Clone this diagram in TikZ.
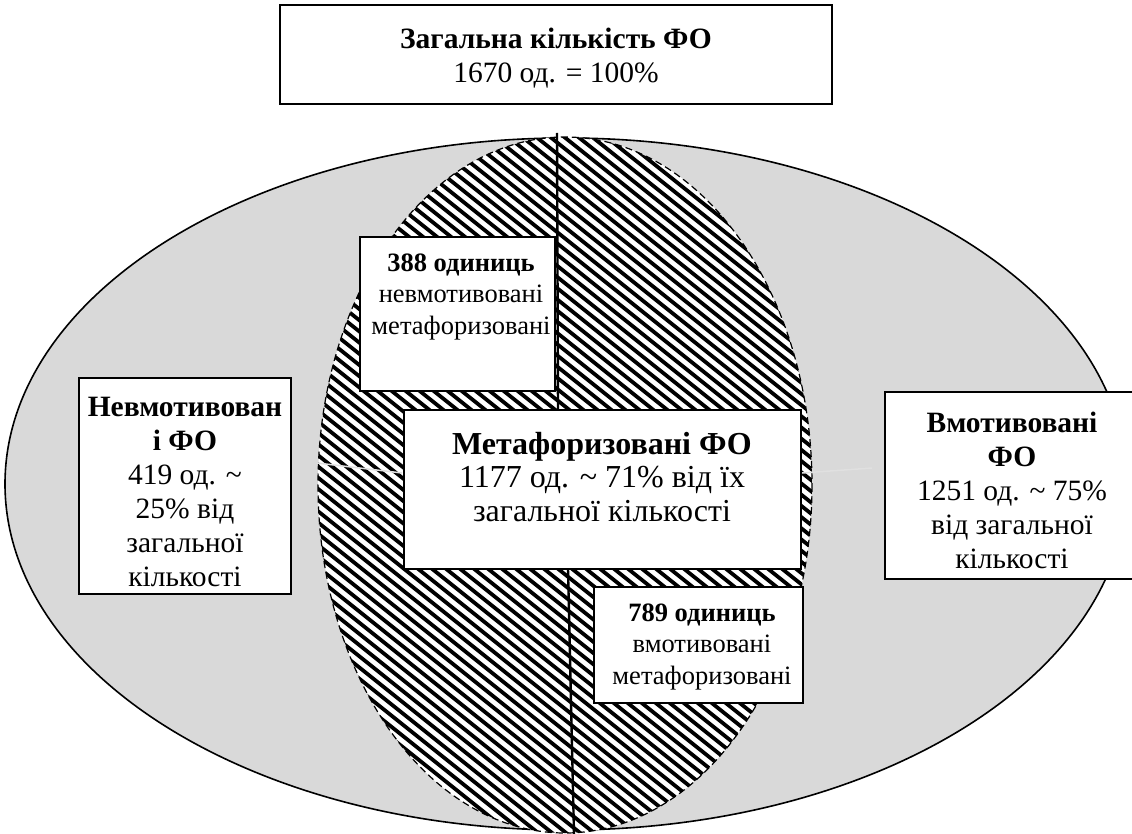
\documentclass[tikz,border=0pt]{standalone}
\usepackage{fontspec}
\setmainfont{Liberation Serif}
\definecolor{fillgray}{HTML}{D9D9D9}
\begin{document}
\begin{tikzpicture}[x=1pt,y=-1pt,
  box/.style={draw=black, line width=1.6pt, fill=white, inner sep=0pt},
  big/.style={font=\fontsize{29.5}{34}\selectfont, align=center, inner sep=0pt},
  huge/.style={font=\fontsize{32}{33.5}\selectfont, align=center, inner sep=0pt},
  small/.style={font=\fontsize{26.5}{31.5}\selectfont, align=center, inner sep=0pt},
  hatchline/.style={line width=3.8pt, black},
  divider/.style={line width=2.4pt, black},
  seam/.style={white!88!black, line width=1.5pt}]
\useasboundingbox (0,0) rectangle (1132,834);
% outer ellipse
\path[fill=fillgray, draw=black, line width=1.6pt] (566,484) ellipse [x radius=561, y radius=346];
% inner hatched ellipse
\begin{scope}
  \clip (565,485) ellipse [x radius=247, y radius=348];
  \fill[white] (0,0) rectangle (1132,834);
  \foreach \c in {-700,-686,...,830} \draw[hatchline] (\c,100) -- ++(1000,800);
\end{scope}
\draw[black, line width=1.2pt, dash pattern=on 7pt off 4pt] (565,485) ellipse [x radius=247, y radius=348];
% faint seams
\coordinate (sl1) at (317,463); \coordinate (sl2) at (402,473);
\coordinate (sr1) at (802,473); \coordinate (sr2) at (872,468);
\draw[seam] (sl1) -- (sl2);
\draw[seam] (sr1) -- (sr2);
% divider lines
\coordinate (v1) at (557,133); \coordinate (v2) at (558,410);
\coordinate (v3) at (568,569); \coordinate (v4) at (574,834);
\draw[divider] (v1) -- (v2);
\draw[divider] (v3) -- (v4);
% boxes
\node[box, minimum width=552, minimum height=99] (total) at (556,54.5) {};
\node[box, minimum width=195, minimum height=154] (b388) at (457.5,314) {};
\node[box, minimum width=397, minimum height=159] (meta) at (602.5,489.5) {};
\node[box, minimum width=212, minimum height=216] (left) at (185,486) {};
\node[box, minimum width=254, minimum height=187] (right) at (1012,485.5) {};
\node[box, minimum width=209, minimum height=116] (b789) at (698.5,645) {};
% texts
\node[big] (totalt) at (556,58) {\textbf{Загальна кількість ФО}\\1670 од. = 100\%};
\node[small] (t388) at (461,297) {\textbf{388 одиниць}\\невмотивовані\\метафоризовані};
\node[huge] (tmeta) at (602,477) {\textbf{Метафоризовані ФО}\\1177 од. \textasciitilde{} 71\% від їх\\загальної кількості};
\node[big] (tleft) at (185,492) {\textbf{Невмотивован}\\\textbf{і ФО}\\419 од. \textasciitilde\\25\% від\\загальної\\кількості};
\node[big] (tright) at (1012,490) {\textbf{Вмотивовані}\\\textbf{ФО}\\1251 од. \textasciitilde{} 75\%\\від загальної\\кількості};
\node[small] (t789) at (702,647) {\textbf{789 одиниць}\\вмотивовані\\метафоризовані};
\end{tikzpicture}
\end{document}
